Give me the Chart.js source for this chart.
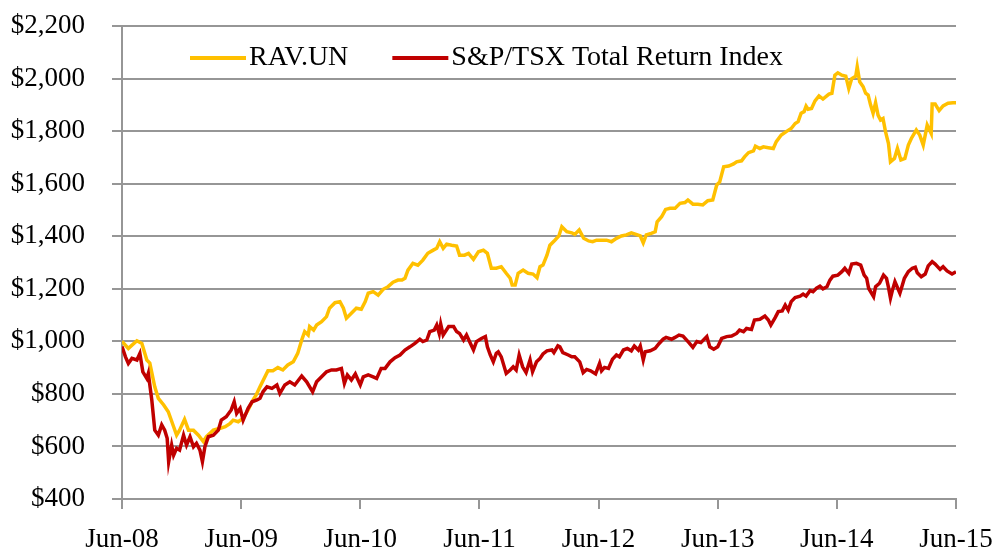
<!DOCTYPE html>
<html>
<head>
<meta charset="utf-8">
<script src="https://cdn.jsdelivr.net/npm/chart.js@4.4.1/dist/chart.umd.min.js"></script>
<style>
  html, body { margin: 0; padding: 0; background: #fff; }
  #wrap { width: 997px; height: 550px; }
</style>
</head>
<body>
<div id="wrap"><canvas id="graph" width="997" height="550"></canvas></div>
<script>
// x values are months since Jun-08
var tickLabels = ["Jun-08", "Jun-09", "Jun-10", "Jun-11", "Jun-12", "Jun-13", "Jun-14", "Jun-15"];

var ravMonths = [0, 0.64, 1.5, 2, 2.5, 2.8, 3.3, 3.66, 4.2, 4.66, 5.2, 5.5, 5.8, 6.3, 6.7, 7.2, 7.7, 8.2, 8.5, 9.2,
  9.9, 10.4, 10.9, 11.2, 11.7, 12.2, 12.7, 13.2, 13.5, 13.9, 14.4, 14.7, 15.2, 15.7, 16.2, 16.7, 17.25, 17.7, 18.1, 18.4,
  18.75, 18.9, 19.3, 19.6, 20.1, 20.6, 20.9, 21.45, 21.95, 22.3, 22.6, 23.1, 23.6, 24.1, 24.5, 24.8, 25.3, 25.8, 26.3, 26.8,
  27.3, 27.8, 28.2, 28.5, 28.8, 29.3, 29.8, 30.3, 30.8, 31.35, 31.7, 32.0, 32.35, 32.7, 33.2, 33.7, 34.0, 34.5, 34.9, 35.4,
  35.9, 36.4, 36.8, 37.2, 37.7, 38.2, 38.7, 39.1, 39.3, 39.6, 39.9, 40.4, 40.9, 41.4, 41.8, 42.1, 42.4, 42.8, 43.1, 43.6,
  44.0, 44.3, 44.8, 45.3, 45.6, 46.05, 46.5, 47.0, 47.4, 47.8, 48.3, 48.8, 49.3, 49.8, 50.3, 50.8, 51.3, 51.7, 52.2, 52.5,
  52.8, 53.3, 53.7, 53.9, 54.35, 54.75, 55.2, 55.7, 56.2, 56.7, 57.0, 57.5, 58.0, 58.5, 59.0, 59.5, 59.9, 60.2, 60.6, 61.1,
  61.6, 61.9, 62.4, 62.7, 63.1, 63.6, 63.8, 64.25, 64.6, 65.1, 65.6, 65.9, 66.4, 66.9, 67.4, 67.8, 68.1, 68.4, 68.7, 68.9,
  69.1, 69.45, 69.8, 70.2, 70.6, 71.2, 71.5, 71.8, 72.1, 72.5, 72.9, 73.2, 73.5, 73.9, 74.05, 74.3, 74.65, 74.9, 75.15, 75.4,
  75.65, 75.9, 76.15, 76.4, 76.65, 76.9, 77.2, 77.4, 77.8, 78.1, 78.45, 78.85, 79.2, 79.5, 80.0, 80.35, 80.7, 80.9, 81.1, 81.5,
  81.6, 81.9, 82.3, 82.7, 83.2, 83.7, 84];
var ravValues = [1000, 973, 1002, 992, 929, 917, 827, 783, 758, 732, 675, 643, 662, 703, 662, 662, 643, 618, 637, 662,
  669, 675, 688, 700, 694, 707, 739, 777, 795, 827, 865, 888, 888, 900, 891, 910, 922, 954, 1005, 1037,
  1024, 1056, 1043, 1062, 1075, 1094, 1126, 1147, 1151, 1126, 1088, 1107, 1126, 1122, 1151, 1183, 1189, 1176, 1198, 1208,
  1225, 1233, 1233, 1240, 1271, 1297, 1290, 1309, 1335, 1347, 1354, 1379, 1354, 1370, 1366, 1363, 1328, 1328, 1335, 1312,
  1341, 1347, 1335, 1278, 1278, 1284, 1259, 1240, 1214, 1214, 1259, 1271, 1259, 1256, 1242, 1284, 1290, 1328, 1366, 1385,
  1401, 1436, 1417, 1413, 1407, 1424, 1392, 1382, 1379, 1385, 1385, 1385, 1379, 1392, 1401, 1405, 1413, 1408, 1401, 1375,
  1405, 1411, 1417, 1455, 1474, 1502, 1506, 1506, 1525, 1528, 1538, 1522, 1522, 1519, 1535, 1538, 1595, 1607, 1664, 1667,
  1675, 1683, 1687, 1702, 1718, 1725, 1743, 1734, 1740, 1737, 1734, 1760, 1785, 1798, 1810, 1829, 1836, 1868, 1874, 1895,
  1883, 1886, 1915, 1934, 1922, 1941, 1944, 2013, 2022, 2013, 2009, 1962, 2000, 2009, 2045, 1988, 1969, 1944, 1937, 1899,
  1868, 1908, 1861, 1842, 1848, 1798, 1753, 1683, 1696, 1734, 1690, 1696, 1747, 1772, 1804, 1785, 1747, 1785, 1823, 1791,
  1903, 1903, 1878, 1896, 1906, 1908, 1908];

var tsxMonths = [0, 0.35, 0.64, 1.0, 1.5, 1.8, 2.1, 2.5, 2.65, 3.0, 3.3, 3.66, 4.0, 4.3, 4.55, 4.7, 5.0, 5.2, 5.5, 5.8,
  6.2, 6.5, 6.85, 7.2, 7.5, 7.85, 8.1, 8.35, 8.7, 9.2, 9.7, 10.0, 10.5, 11.0, 11.3, 11.55, 11.9, 12.2, 12.7, 13.1,
  13.6, 13.9, 14.2, 14.6, 15.1, 15.6, 15.9, 16.4, 16.9, 17.4, 18.1, 18.6, 19.2, 19.6, 20.1, 20.6, 21.1, 21.6, 22.1, 22.4,
  22.7, 23.1, 23.5, 24.0, 24.3, 24.8, 25.3, 25.65, 26.1, 26.5, 27.0, 27.5, 28.0, 28.5, 29.0, 29.5, 30.0, 30.3, 30.7, 31.0,
  31.45, 31.7, 31.95, 32.1, 32.35, 32.9, 33.4, 33.7, 34.0, 34.4, 34.7, 35.0, 35.4, 35.7, 36.2, 36.6, 36.8, 37.1, 37.4, 37.7,
  37.9, 38.2, 38.7, 39.1, 39.4, 39.7, 40.0, 40.35, 40.7, 41.1, 41.35, 41.75, 42.1, 42.4, 42.8, 43.3, 43.5, 43.9, 44.1, 44.4,
  44.95, 45.3, 45.6, 46.1, 46.45, 46.8, 47.2, 47.7, 48.1, 48.3, 48.6, 49.0, 49.4, 49.8, 50.1, 50.5, 50.9, 51.3, 51.6, 52.0,
  52.2, 52.5, 52.7, 53.2, 53.7, 54.1, 54.5, 54.8, 55.35, 55.7, 56.1, 56.5, 57.1, 57.5, 57.9, 58.3, 58.9, 59.2, 59.6, 60.0,
  60.4, 60.9, 61.4, 61.9, 62.2, 62.6, 62.9, 63.4, 63.7, 64.25, 64.75, 65.1, 65.35, 65.8, 66.1, 66.5, 66.8, 67.1, 67.4, 67.8,
  68.3, 68.6, 68.9, 69.3, 69.6, 69.95, 70.3, 70.6, 71.0, 71.3, 71.6, 72.1, 72.5, 72.8, 73.2, 73.5, 73.97, 74.4, 74.75, 75.0,
  75.2, 75.5, 75.7, 75.9, 76.3, 76.7, 77.0, 77.2, 77.4, 77.6, 77.85, 78.1, 78.35, 78.6, 78.8, 79.2, 79.6, 79.9, 80.1, 80.5,
  80.9, 81.2, 81.6, 81.9, 82.4, 82.7, 83.1, 83.6, 84];
var tsxValues = [980, 941, 916, 935, 929, 954, 884, 859, 878, 777, 662, 643, 682, 662, 631, 542, 605, 567, 593, 586,
  643, 605, 637, 599, 612, 586, 542, 599, 637, 643, 662, 700, 713, 739, 770, 726, 745, 700, 745, 770,
  777, 783, 808, 827, 821, 834, 802, 834, 846, 834, 868, 846, 808, 846, 865, 884, 891, 891, 897, 840,
  872, 853, 876, 834, 865, 872, 865, 859, 897, 897, 922, 938, 948, 967, 979, 992, 1008, 999, 1005, 1037,
  1043, 1062, 1030, 1066, 1024, 1056, 1056, 1037, 1030, 1005, 1024, 999, 967, 999, 1011, 1018, 979, 948, 922, 954,
  960, 941, 878, 891, 903, 891, 948, 903, 881, 929, 884, 922, 935, 952, 964, 967, 957, 983, 979, 957,
  948, 941, 941, 922, 881, 893, 888, 876, 916, 888, 901, 897, 932, 948, 941, 967, 973, 964, 982, 967,
  982, 929, 960, 964, 973, 992, 1008, 1015, 1008, 1015, 1024, 1020, 995, 977, 999, 995, 1018, 979, 970, 979,
  1011, 1018, 1020, 1030, 1043, 1037, 1049, 1045, 1081, 1084, 1096, 1081, 1062, 1091, 1113, 1116, 1138, 1119, 1151, 1167,
  1172, 1180, 1172, 1193, 1189, 1202, 1210, 1200, 1208, 1233, 1248, 1252, 1265, 1278, 1259, 1294, 1297, 1290, 1252, 1240,
  1202, 1183, 1170, 1208, 1221, 1252, 1240, 1205, 1164, 1195, 1227, 1205, 1183, 1214, 1240, 1265, 1278, 1282, 1261, 1246,
  1256, 1287, 1303, 1294, 1274, 1284, 1268, 1256, 1265];

function toPoints(xs, ys) {
  return xs.map(function (x, i) { return { x: x, y: ys[i] }; });
}

var fontFamily = "'Liberation Serif', 'Times New Roman', serif";
var gridGray = "#969696";

// legend drawn inside the plot, like the original
var insideLegend = {
  id: "insideLegend",
  afterDraw: function (c) {
    var ctx = c.ctx;
    var x = 190;
    var y = 58;
    ctx.save();
    ctx.font = "28px " + fontFamily;
    ctx.textBaseline = "middle";
    ctx.textAlign = "left";
    c.data.datasets.forEach(function (ds) {
      ctx.strokeStyle = ds.borderColor;
      ctx.lineWidth = 4;
      ctx.beginPath();
      ctx.moveTo(x, y);
      ctx.lineTo(x + 56, y);
      ctx.stroke();
      ctx.fillStyle = "#000";
      ctx.fillText(ds.label, x + 59, y);
      x += 59 + ctx.measureText(ds.label).width + 44;
    });
    ctx.restore();
  }
};

var chart = new Chart(document.getElementById("graph").getContext("2d"), {
  type: "line",
  data: {
    datasets: [
      {
        label: "RAV.UN",
        data: toPoints(ravMonths, ravValues),
        borderColor: "#FFC000",
        backgroundColor: "#FFC000",
        borderWidth: 3.5,
        pointRadius: 0,
        tension: 0,
        order: 2
      },
      {
        label: "S&P/TSX Total Return Index",
        data: toPoints(tsxMonths, tsxValues),
        borderColor: "#C00000",
        backgroundColor: "#C00000",
        borderWidth: 3.5,
        pointRadius: 0,
        tension: 0,
        order: 1
      }
    ]
  },
  options: {
    responsive: false,
    animation: false,
    layout: { padding: { left: 0, right: 41, top: 26, bottom: 0 } },
    plugins: {
      legend: { display: false },
      tooltip: { enabled: false }
    },
    scales: {
      x: {
        type: "linear",
        min: 0,
        max: 84,
        afterFit: function (axis) {
          axis.height = 51;
          axis.paddingLeft = 0;
          axis.paddingRight = 0;
        },
        ticks: {
          stepSize: 12,
          autoSkip: false,
          maxRotation: 0,
          padding: 15,
          color: "#000",
          font: { family: fontFamily, size: 27 },
          callback: function (v) { return tickLabels[Math.round(v / 12)]; }
        },
        grid: {
          drawOnChartArea: false,
          drawTicks: true,
          tickLength: 10,
          color: gridGray,
          lineWidth: 2
        },
        border: { display: true, color: gridGray, width: 2 }
      },
      y: {
        min: 400,
        max: 2200,
        afterFit: function (axis) {
          axis.width = 122;
          axis.paddingTop = 0;
          axis.paddingBottom = 0;
        },
        ticks: {
          stepSize: 200,
          padding: 27,
          color: "#000",
          font: { family: fontFamily, size: 27 },
          callback: function (v) { return "$" + v.toLocaleString("en-US"); }
        },
        grid: {
          drawTicks: true,
          tickLength: 10,
          color: gridGray,
          lineWidth: 2
        },
        border: { display: true, color: gridGray, width: 2 }
      }
    }
  },
  plugins: [insideLegend]
});
</script>
</body>
</html>
